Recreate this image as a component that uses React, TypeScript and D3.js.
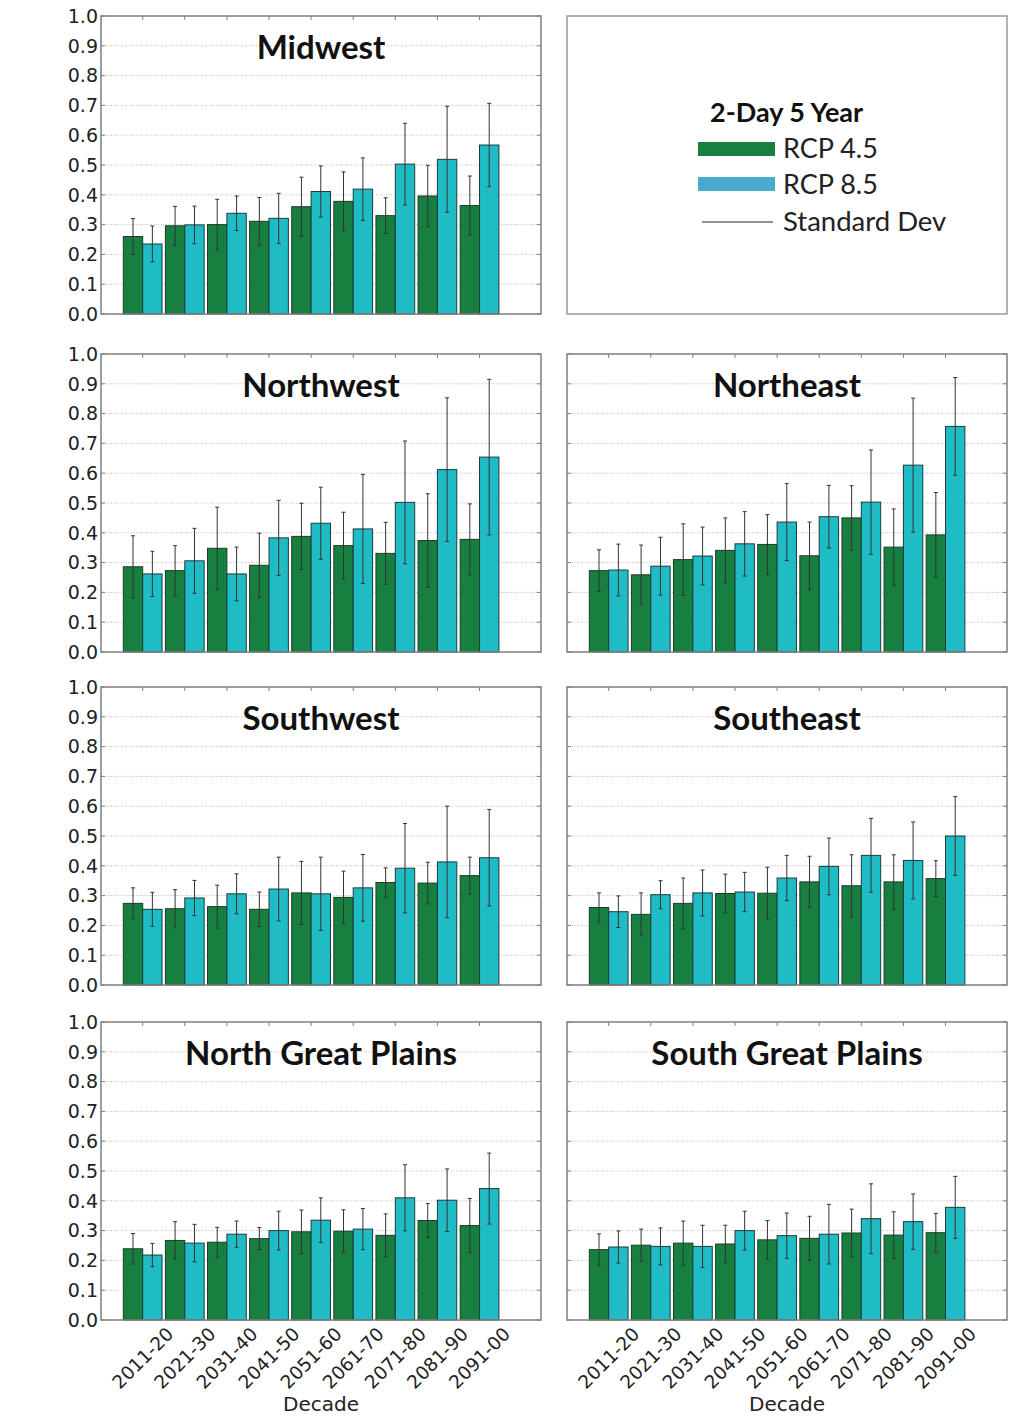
import React from 'react';
import * as d3 from 'd3';

const decades = ['2011-20', '2021-30', '2031-40', '2041-50', '2051-60', '2061-70', '2071-80', '2081-90', '2091-00'];
const yTicks = [0, 0.1, 0.2, 0.3, 0.4, 0.5, 0.6, 0.7, 0.8, 0.9, 1.0];

// mean / std per decade, RCP 4.5 and RCP 8.5
const midwest45 = [0.26, 0.296, 0.30, 0.311, 0.36, 0.378, 0.33, 0.396, 0.364];
const midwest45Sd = [0.06, 0.065, 0.085, 0.08, 0.099, 0.099, 0.06, 0.103, 0.099];
const midwest85 = [0.235, 0.299, 0.338, 0.321, 0.411, 0.419, 0.503, 0.519, 0.567];
const midwest85Sd = [0.06, 0.063, 0.058, 0.084, 0.086, 0.105, 0.137, 0.178, 0.14];

const northwest45 = [0.286, 0.273, 0.348, 0.291, 0.388, 0.357, 0.331, 0.374, 0.378];
const northwest45Sd = [0.104, 0.084, 0.138, 0.108, 0.111, 0.112, 0.104, 0.157, 0.119];
const northwest85 = [0.262, 0.306, 0.262, 0.383, 0.432, 0.413, 0.502, 0.612, 0.654];
const northwest85Sd = [0.076, 0.109, 0.09, 0.126, 0.121, 0.183, 0.206, 0.241, 0.261];

const northeast45 = [0.273, 0.259, 0.31, 0.341, 0.361, 0.323, 0.45, 0.352, 0.393];
const northeast45Sd = [0.07, 0.1, 0.12, 0.109, 0.1, 0.113, 0.108, 0.128, 0.142];
const northeast85 = [0.275, 0.288, 0.322, 0.363, 0.436, 0.454, 0.503, 0.627, 0.757];
const northeast85Sd = [0.087, 0.097, 0.097, 0.108, 0.129, 0.105, 0.175, 0.225, 0.164];

const southwest45 = [0.274, 0.256, 0.263, 0.254, 0.309, 0.294, 0.344, 0.342, 0.367];
const southwest45Sd = [0.052, 0.064, 0.072, 0.058, 0.106, 0.088, 0.049, 0.07, 0.062];
const southwest85 = [0.254, 0.292, 0.306, 0.322, 0.306, 0.326, 0.392, 0.413, 0.427];
const southwest85Sd = [0.057, 0.059, 0.067, 0.107, 0.123, 0.112, 0.15, 0.187, 0.162];

const southeast45 = [0.26, 0.237, 0.274, 0.307, 0.308, 0.346, 0.333, 0.346, 0.357];
const southeast45Sd = [0.049, 0.072, 0.085, 0.065, 0.087, 0.086, 0.104, 0.091, 0.06];
const southeast85 = [0.246, 0.303, 0.309, 0.312, 0.359, 0.398, 0.435, 0.418, 0.5];
const southeast85Sd = [0.053, 0.047, 0.077, 0.066, 0.076, 0.095, 0.124, 0.129, 0.132];

const ngp45 = [0.239, 0.267, 0.261, 0.273, 0.296, 0.298, 0.284, 0.334, 0.317];
const ngp45Sd = [0.051, 0.063, 0.05, 0.037, 0.073, 0.072, 0.072, 0.057, 0.091];
const ngp85 = [0.218, 0.258, 0.288, 0.30, 0.335, 0.305, 0.41, 0.402, 0.441];
const ngp85Sd = [0.039, 0.063, 0.044, 0.065, 0.075, 0.069, 0.111, 0.105, 0.119];

const sgp45 = [0.236, 0.251, 0.258, 0.255, 0.269, 0.274, 0.292, 0.285, 0.293];
const sgp45Sd = [0.053, 0.054, 0.074, 0.063, 0.065, 0.074, 0.08, 0.078, 0.065];
const sgp85 = [0.245, 0.247, 0.247, 0.30, 0.283, 0.288, 0.34, 0.33, 0.378];
const sgp85Sd = [0.054, 0.062, 0.071, 0.065, 0.076, 0.1, 0.117, 0.093, 0.104];

const GREEN = '#178040';
const CYAN = '#1fbcc6';
const LEG_CYAN = '#48abcf';
const FRAME = '#7f7f7f';

const PW = 440;
const PH = 298;
const BAR_W = 0.46;

const x = d3.scaleLinear().domain([-0.53, 9.92]).range([0, PW]);
const y = d3.scaleLinear().domain([0, 1]).range([PH, 0]);

type PanelProps = {
  title: string;
  left: number;
  top: number;
  a: number[]; aSd: number[];
  b: number[]; bSd: number[];
  yLabels: boolean;
  xLabels: boolean;
};

const ErrBar = ({ cx, v, s }: { cx: number; v: number; s: number }) => {
  const y1 = y(v + s), y2 = y(v - s);
  return (
    <g stroke="#333" strokeWidth={1}>
      <line x1={cx} x2={cx} y1={y1} y2={y2} />
      <line x1={cx - 2} x2={cx + 2} y1={y1} y2={y1} />
      <line x1={cx - 2} x2={cx + 2} y1={y2} y2={y2} />
    </g>
  );
};

const Panel = ({ title, left, top, a, aSd, b, bSd, yLabels, xLabels }: PanelProps) => {
  const bw = x(BAR_W) - x(0);
  return (
    <g transform={`translate(${left},${top})`}>
      {yTicks.map(t => (
        <g key={t}>
          {t > 0 && t < 1 && (
            <line x1={0} x2={PW} y1={y(t)} y2={y(t)} stroke="#bdbdbd" strokeDasharray="1,1.5" />
          )}
          <line x1={0} x2={4} y1={y(t)} y2={y(t)} stroke={FRAME} />
          <line x1={PW - 4} x2={PW} y1={y(t)} y2={y(t)} stroke={FRAME} />
          {yLabels && (
            <text x={-3} y={y(t)} dy="0.36em" textAnchor="end" fontFamily="DejaVu Sans" fontSize={19} fill="#222">
              {t.toFixed(1)}
            </text>
          )}
        </g>
      ))}
      {decades.map((d, i) => (
        <g key={d}>
          <rect x={x(i)} y={y(a[i])} width={bw} height={y(0) - y(a[i])} fill={GREEN} stroke="#1d3a26" strokeWidth={1} />
          <rect x={x(i + BAR_W)} y={y(b[i])} width={bw} height={y(0) - y(b[i])} fill={CYAN} stroke="#1d3a3a" strokeWidth={1} />
          <ErrBar cx={x(i + BAR_W / 2)} v={a[i]} s={aSd[i]} />
          <ErrBar cx={x(i + BAR_W * 1.5)} v={b[i]} s={bSd[i]} />
          <line x1={x(i + BAR_W)} x2={x(i + BAR_W)} y1={0} y2={4} stroke={FRAME} />
          {xLabels && (
            <text
              transform={`translate(${x(i + BAR_W)},${PH + 38}) rotate(-45)`}
              textAnchor="middle" dy="0.35em" fontFamily="DejaVu Sans" fontSize={18.5} fill="#222"
            >
              {d}
            </text>
          )}
        </g>
      ))}
      <rect x={0} y={0} width={PW} height={PH} fill="none" stroke={FRAME} strokeWidth={1.5} />
      <text x={PW / 2} y={43} textAnchor="middle" fontFamily="Lato" fontWeight="bold" fontSize={33} fill="#111">
        {title}
      </text>
      {xLabels && (
        <text x={PW / 2} y={PH + 91} textAnchor="middle" fontFamily="DejaVu Sans" fontSize={20} fill="#222">
          Decade
        </text>
      )}
    </g>
  );
};

const Legend = ({ left, top }: { left: number; top: number }) => (
  <g transform={`translate(${left},${top})`} fontFamily="Lato">
    <rect x={0} y={0} width={PW} height={PH} fill="#fff" stroke="#999" strokeWidth={1.5} />
    <text x={143} y={106} fontWeight="bold" fontSize={27} fill="#111">2-Day 5 Year</text>
    <rect x={131} y={126} width={77} height={14} fill={GREEN} />
    <text x={216} y={142} fontSize={27} fill="#222">RCP 4.5</text>
    <rect x={131} y={161} width={77} height={14} fill={LEG_CYAN} />
    <text x={216} y={178} fontSize={27} fill="#222">RCP 8.5</text>
    <line x1={135} x2={206} y1={206} y2={206} stroke="#222" strokeWidth={1.2} />
    <text x={216} y={215} fontSize={27.5} fill="#222">Standard Dev</text>
  </g>
);

export default function App() {
  const L = 101, R = 567;
  const rows = [16, 354, 687, 1022];
  return (
    <svg width={1033} height={1418} style={{ display: 'block', position: 'absolute', left: 0, top: 0 }}>
      <rect width={1033} height={1418} fill="#fff" />
      <Panel title="Midwest" left={L} top={rows[0]} a={midwest45} aSd={midwest45Sd} b={midwest85} bSd={midwest85Sd} yLabels xLabels={false} />
      <Legend left={R} top={rows[0]} />
      <Panel title="Northwest" left={L} top={rows[1]} a={northwest45} aSd={northwest45Sd} b={northwest85} bSd={northwest85Sd} yLabels xLabels={false} />
      <Panel title="Northeast" left={R} top={rows[1]} a={northeast45} aSd={northeast45Sd} b={northeast85} bSd={northeast85Sd} yLabels={false} xLabels={false} />
      <Panel title="Southwest" left={L} top={rows[2]} a={southwest45} aSd={southwest45Sd} b={southwest85} bSd={southwest85Sd} yLabels xLabels={false} />
      <Panel title="Southeast" left={R} top={rows[2]} a={southeast45} aSd={southeast45Sd} b={southeast85} bSd={southeast85Sd} yLabels={false} xLabels={false} />
      <Panel title="North Great Plains" left={L} top={rows[3]} a={ngp45} aSd={ngp45Sd} b={ngp85} bSd={ngp85Sd} yLabels xLabels />
      <Panel title="South Great Plains" left={R} top={rows[3]} a={sgp45} aSd={sgp45Sd} b={sgp85} bSd={sgp85Sd} yLabels={false} xLabels />
    </svg>
  );
}
